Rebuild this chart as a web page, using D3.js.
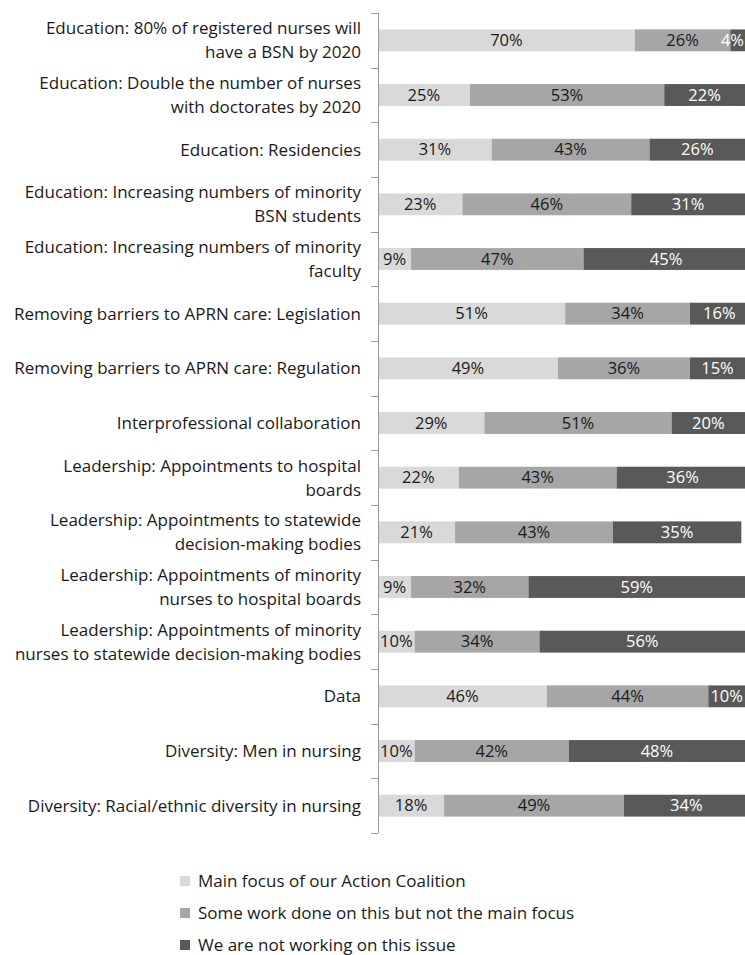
<!DOCTYPE html>
<html>
<head>
<meta charset="utf-8">
<script src="https://cdn.jsdelivr.net/npm/d3@7"></script>
<style>
  body { margin: 0; background: #fff; }
  svg text { font-family: "Open Sans", "Noto Sans", sans-serif; }
</style>
</head>
<body>
<div id="chart"></div>
<script>
  // categories (label lines) top to bottom
  const categories = [
    ["Education: 80% of registered nurses will", "have a BSN by 2020"],
    ["Education: Double the number of nurses", "with doctorates by 2020"],
    ["Education: Residencies"],
    ["Education: Increasing numbers of minority", "BSN students"],
    ["Education: Increasing numbers of minority", "faculty"],
    ["Removing barriers to APRN care: Legislation"],
    ["Removing barriers to APRN care: Regulation"],
    ["Interprofessional collaboration"],
    ["Leadership: Appointments to hospital", "boards"],
    ["Leadership: Appointments to statewide", "decision-making bodies"],
    ["Leadership: Appointments of minority", "nurses to hospital boards"],
    ["Leadership: Appointments of minority", "nurses to statewide decision-making bodies"],
    ["Data"],
    ["Diversity: Men in nursing"],
    ["Diversity: Racial/ethnic diversity in nursing"]
  ];

  const seriesNames = [
    "Main focus of our Action Coalition",
    "Some work done on this but not the main focus",
    "We are not working on this issue"
  ];

  const mainFocus = [70, 25, 31, 23, 9, 51, 49, 29, 22, 21, 9, 10, 46, 10, 18];
  const someWork  = [26, 53, 43, 46, 47, 34, 36, 51, 43, 43, 32, 34, 44, 42, 49];
  const notWorking = [4, 22, 26, 31, 45, 16, 15, 20, 36, 35, 59, 56, 10, 48, 34];

  const seriesColors = ["#d9d9d9", "#a6a6a6", "#595959"];
  const textColors = ["#1a1a1a", "#1a1a1a", "#fff"];

  const W = 745, H = 955;
  const svg = d3.select("#chart").append("svg")
    .attr("width", W).attr("height", H);

  const x0 = 378;
  const x = d3.scaleLinear().domain([0, 100]).range([x0, x0 + 367]);
  const y = d3.scaleBand()
    .domain(d3.range(categories.length))
    .range([13, 833])
    .paddingInner(0.6)
    .paddingOuter(0.3);

  const rows = categories.map((c, i) => ({
    idx: i,
    vals: [mainFocus[i], someWork[i], notWorking[i]]
  }));

  const segs = [];
  rows.forEach(r => {
    let acc = 0;
    r.vals.forEach((v, s) => {
      segs.push({ idx: r.idx, s, v, start: acc, end: acc + v });
      acc += v;
    });
  });

  // bars
  svg.append("g").selectAll("rect")
    .data(segs)
    .enter().append("rect")
    .attr("x", d => x(d.start))
    .attr("width", d => Math.min(x(d.end), W) - x(d.start))
    .attr("y", d => y(d.idx))
    .attr("height", y.bandwidth())
    .attr("fill", d => seriesColors[d.s]);

  // value labels (pushed back inside if they'd run off the right edge)
  svg.append("g").selectAll("text")
    .data(segs)
    .enter().append("text")
    .attr("x", d => (x(d.start) + x(d.end)) / 2)
    .attr("y", d => y(d.idx) + y.bandwidth() / 2)
    .attr("dy", "0.35em")
    .attr("text-anchor", "middle")
    .style("font-size", "16.5px")
    .style("fill", d => textColors[d.s])
    .text(d => d.v + "%")
    .each(function() {
      const b = this.getBBox();
      if (b.x + b.width > W - 1) {
        d3.select(this).attr("text-anchor", "end").attr("x", W - 1);
      }
    });

  // axis line + ticks at band boundaries
  const axisTop = 13, axisBot = 833;
  svg.append("line")
    .attr("x1", x0 + 0.5).attr("x2", x0 + 0.5)
    .attr("y1", axisTop).attr("y2", axisBot)
    .attr("stroke", "#999").attr("stroke-width", 1);
  const tickYs = d3.range(categories.length + 1).map(i => axisTop + i * (axisBot - axisTop) / categories.length);
  svg.append("g").selectAll("line")
    .data(tickYs)
    .enter().append("line")
    .attr("x1", x0 - 7).attr("x2", x0)
    .attr("y1", d => Math.round(d) + 0.5).attr("y2", d => Math.round(d) + 0.5)
    .attr("stroke", "#999");

  // category labels
  const lab = svg.append("g").selectAll("text")
    .data(categories)
    .enter().append("text")
    .attr("text-anchor", "end")
    .style("font-size", "17px")
    .style("fill", "#1a1a1a");
  lab.each(function(lines, i) {
    const cy = y(i) + y.bandwidth() / 2;
    const lh = 24;
    const top = cy - (lines.length - 1) * lh / 2;
    d3.select(this).selectAll("tspan")
      .data(lines)
      .enter().append("tspan")
      .attr("x", 361)
      .attr("y", (d, k) => top + k * lh)
      .attr("dy", "0.35em")
      .text(d => d);
  });

  // legend
  const leg = svg.append("g").selectAll("g")
    .data(seriesNames)
    .enter().append("g")
    .attr("transform", (d, i) => `translate(180, ${881 + i * 32})`);
  leg.append("rect")
    .attr("x", 0).attr("y", -5)
    .attr("width", 10).attr("height", 10)
    .attr("fill", (d, i) => seriesColors[i]);
  leg.append("text")
    .attr("x", 18).attr("y", 0).attr("dy", "0.35em")
    .style("font-size", "17px")
    .style("fill", "#1a1a1a")
    .text(d => d);
</script>
</body>
</html>
